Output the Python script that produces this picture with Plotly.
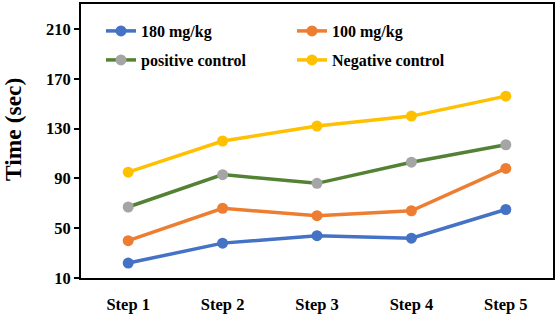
import plotly.graph_objects as go

categories = ["Step 1", "Step 2", "Step 3", "Step 4", "Step 5"]
series_names = ["180 mg/kg", "100 mg/kg", "positive control", "Negative control"]
v_180 = [22, 38, 44, 42, 65]
v_100 = [40, 66, 60, 64, 98]
v_pos = [67, 93, 86, 103, 117]
v_neg = [95, 120, 132, 140, 156]
y_ticks = [10, 50, 90, 130, 170, 210]

line_colors = ["#4472C4", "#ED7D31", "#548235", "#FFC000"]
marker_colors = ["#4472C4", "#ED7D31", "#A5A5A5", "#FFC000"]
legend_ids = ["legend", "legend2", "legend3", "legend4"]
values = [v_180, v_100, v_pos, v_neg]

FONT = "Liberation Serif"

W, H = 555, 314
ML, MR, MT, MB = 81, 2, 4, 36
PW, PH = W - ML - MR, H - MT - MB

def px_x(px):
    return (px - ML) / PW

def px_y(py):
    return 1 - (py - MT) / PH

fig = go.Figure()
for name, vals, lc, mc, lg in zip(series_names, values, line_colors, marker_colors, legend_ids):
    fig.add_trace(go.Scatter(
        x=categories, y=vals, name=name, mode="lines+markers",
        line=dict(color=lc, width=3.5),
        marker=dict(color=mc, size=11),
        legend=lg,
    ))

legend_common = dict(
    orientation="v", xanchor="left", yanchor="middle",
    font=dict(family=FONT, size=16, color="black", weight="bold"),
    bgcolor="rgba(0,0,0,0)", borderwidth=0,
)

col_x = [101, 292]
row_y = [31, 60]

fig.update_layout(
    width=W, height=H,
    margin=dict(l=ML, r=MR, t=MT, b=MB, autoexpand=False),
    paper_bgcolor="white", plot_bgcolor="white",
    showlegend=True,
    legend=dict(x=px_x(col_x[0]), y=px_y(row_y[0]), **legend_common),
    legend2=dict(x=px_x(col_x[1]), y=px_y(row_y[0]), **legend_common),
    legend3=dict(x=px_x(col_x[0]), y=px_y(row_y[1]), **legend_common),
    legend4=dict(x=px_x(col_x[1]), y=px_y(row_y[1]), **legend_common),
    xaxis=dict(
        type="category", range=[-0.5, 4.5], automargin=False,
        showline=True, linecolor="black", linewidth=2, mirror=True,
        ticks="", showgrid=False, zeroline=False,
        tickfont=dict(family=FONT, size=16.5, color="black", weight="bold"),
        ticklabelstandoff=10,
    ),
    yaxis=dict(
        range=[10, 230], tickvals=y_ticks, automargin=False,
        showline=True, linecolor="black", linewidth=2, mirror=True,
        ticks="outside", ticklen=5, tickwidth=1.5, tickcolor="black",
        showgrid=False, zeroline=False,
        tickfont=dict(family=FONT, size=16.5, color="black", weight="bold"),
    ),
    annotations=[dict(
        text="Time (sec)", textangle=-90, showarrow=False,
        xref="paper", yref="paper", x=px_x(13), y=px_y(130),
        xanchor="center", yanchor="middle",
        font=dict(family=FONT, size=23.5, color="black", weight="bold"),
    )],
)

fig.write_html(
    "out.html",
    config={"displayModeBar": False},
    post_script="document.body.style.margin='0';",
)
